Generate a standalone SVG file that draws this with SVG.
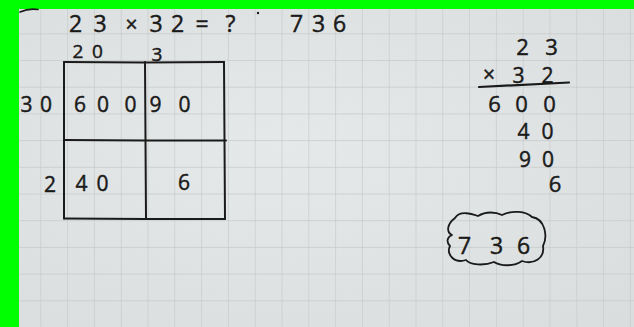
<svg xmlns="http://www.w3.org/2000/svg" width="634" height="327" viewBox="0 0 634 327">
  <defs>
    <pattern id="grid" patternUnits="userSpaceOnUse" x="13.5" y="6.6" width="26.8" height="26.7">
      <rect width="26.8" height="26.7" fill="none"/>
      <path d="M0,0 V26.7 M0,0 H26.8" stroke="#c6caca" stroke-width="1.3" fill="none"/>
    </pattern>
    <radialGradient id="paper" cx="0.45" cy="0.45" r="0.75">
      <stop offset="0" stop-color="#e6e9e9"/>
      <stop offset="1" stop-color="#dadddd"/>
    </radialGradient>
  </defs>
  <style>
    .t { font-family: "Open Sans", "DejaVu Sans", sans-serif; fill: #1a1a1a; stroke: #1a1a1a; stroke-width: 0.45px; text-anchor: middle; }
    .big { font-size: 23px; }
    .col { font-size: 22px; }
    .mid { font-size: 21px; }
    .sm { font-size: 19px; }
    .ink { stroke: #1a1a1a; fill: none; stroke-linecap: round; stroke-linejoin: round; }
  </style>
  <rect x="0" y="0" width="634" height="327" fill="url(#paper)"/>
  <rect x="0" y="0" width="634" height="327" fill="url(#grid)"/>
  <!-- green border -->
  <rect x="0" y="0" width="634" height="9" fill="#00ff00"/>
  <rect x="0" y="0" width="19" height="327" fill="#00ff00"/>
  <path class="ink" d="M20,12 Q29,8 38,9.5" stroke-width="1.6"/>

  <g id="equation">
    <text class="t big" x="75.5 100" y="32">23</text>
    <text class="t mid" x="131.5" y="32">×</text>
    <text class="t big" x="156 177.5" y="32">32</text>
    <text class="t big" x="202" y="32">=</text>
    <text class="t big" x="230.5" y="32">?</text>
    <circle cx="258" cy="13" r="1.2" fill="#1a1a1a"/>
    <text class="t big" x="296.5 318.5 339.5" y="32">736</text>
  </g>

  <g id="area-model">
    <text class="t sm" x="78 97.5" y="58">20</text>
    <text class="t sm" x="157" y="61">3</text>
    <text class="t mid" x="26.5 46" y="112">30</text>
    <text class="t mid" x="80 103 130.5" y="112">600</text>
    <text class="t mid" x="155.5 184.5" y="112">90</text>
    <text class="t mid" x="50" y="192">2</text>
    <text class="t mid" x="81.5 102.5" y="191">40</text>
    <text class="t mid" x="184" y="190">6</text>
    <g class="ink" stroke-width="2">
      <path d="M64,62 L144,62.5 L224,62"/>
      <path d="M64,62 L64,218.5"/>
      <path d="M224,62 L225,219"/>
      <path d="M145,62 L146,219"/>
      <path d="M64,140 L146,140.5 L226,140.5"/>
      <path d="M64,218.5 L146,219 L225,219"/>
    </g>
  </g>

  <g id="column-method">
    <text class="t col" x="522.5 551.5" y="55">23</text>
    <text class="t mid" x="489" y="82">×</text>
    <text class="t mid" x="518.5 547.5" y="83">32</text>
    <path class="ink" d="M479,87 L569,82.5" stroke-width="2.2"/>
    <text class="t col" x="494.5 521.5 549.5" y="112">600</text>
    <text class="t mid" x="523.5 547.5" y="139">40</text>
    <text class="t mid" x="525 548" y="167">90</text>
    <text class="t col" x="555" y="192">6</text>
  </g>

  <g id="answer">
    <text class="t big" x="464.5 496.5 523.5" y="254">736</text>
    <path class="ink" stroke-width="1.8" d="M455,218 C460,210 472,214 478,216 C486,211 496,212 502,215 C512,210 526,211 532,217 C545,219 548,236 543,246 C545,258 534,265 522,261 C514,267 500,266 494,262 C484,266 470,265 466,260 C454,264 446,254 450,246 C446,242 447,237 452,235 C446,232 447,224 455,218 Z"/>
  </g>
</svg>
